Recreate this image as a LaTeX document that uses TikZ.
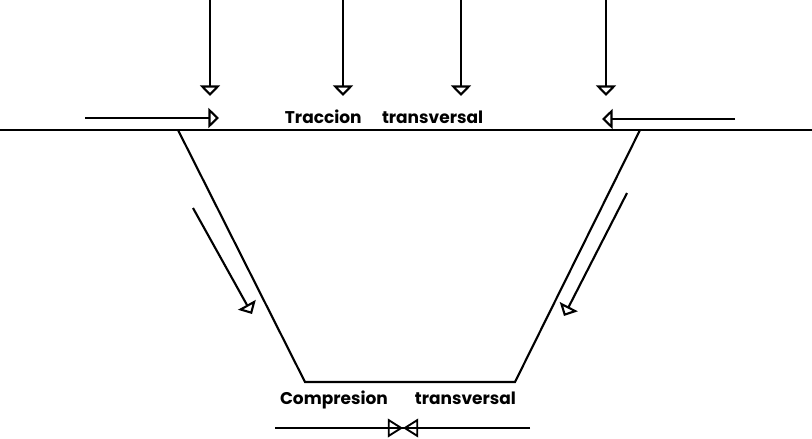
\documentclass[tikz,border=0pt]{standalone}
\usepackage{fontspec}
\setmainfont{Poppins}
\usetikzlibrary{arrows.meta}

\tikzset{
  fleche/.style={line width=1.8pt,-{Triangle[open,length=9pt,width=17pt,line width=1.8pt]}},
  noeud/.style={line width=1.6pt,-{Triangle[open,length=13pt,width=16pt,line width=1.6pt]}},
  trait/.style={line width=1.8pt},
  etiquette/.style={font=\bfseries\fontsize{14.5}{16}\selectfont}
}

\begin{document}
\begin{tikzpicture}[x=0.03cm,y=-0.03cm]

\useasboundingbox (0,0) rectangle (812,438);

% Surface
\coordinate (sg) at (0,130);
\coordinate (sd) at (812,130);
\draw[trait] (sg) -- (sd);

% Tranchee
\coordinate (hg) at (178,130);
\coordinate (bg) at (305,382);
\coordinate (bd) at (515,382);
\coordinate (hd) at (640,130);
\draw[trait] (hg) -- (bg) -- (bd) -- (hd);

% Charges verticales
\foreach \x/\nom in {210/a,343/b,461/c,606/d}
{
\coordinate (h\nom) at (\x,0);
\coordinate (p\nom) at (\x,96);
\draw[fleche] (h\nom) -- (p\nom);
}

% Traction
\coordinate (tg1) at (85,118);
\coordinate (tg2) at (219,118);
\draw[fleche] (tg1) -- (tg2);

\coordinate (td1) at (735,119);
\coordinate (td2) at (602,119);
\draw[fleche] (td1) -- (td2);

\node[etiquette] (traction)
at (384,117)
{Traccion\hspace{1.2em}transversal};

% Glissement
\coordinate (gg1) at (193,208);
\coordinate (gg2) at (252,314);
\draw[fleche] (gg1) -- (gg2);

\coordinate (gd1) at (627,193);
\coordinate (gd2) at (564,316);
\draw[fleche] (gd1) -- (gd2);

% Compression
\node[etiquette] (compression)
at (398,400)
{Compresion\hspace{1.6em}transversal};

\coordinate (cg) at (275,428);
\coordinate (cd) at (530,428);
\coordinate (cm) at (403,428);
\draw[line width=1.2pt] (cg) -- (cd);
\draw[noeud] (cg) -- (cm);
\draw[noeud] (cd) -- (cm);

\end{tikzpicture}
\end{document}
